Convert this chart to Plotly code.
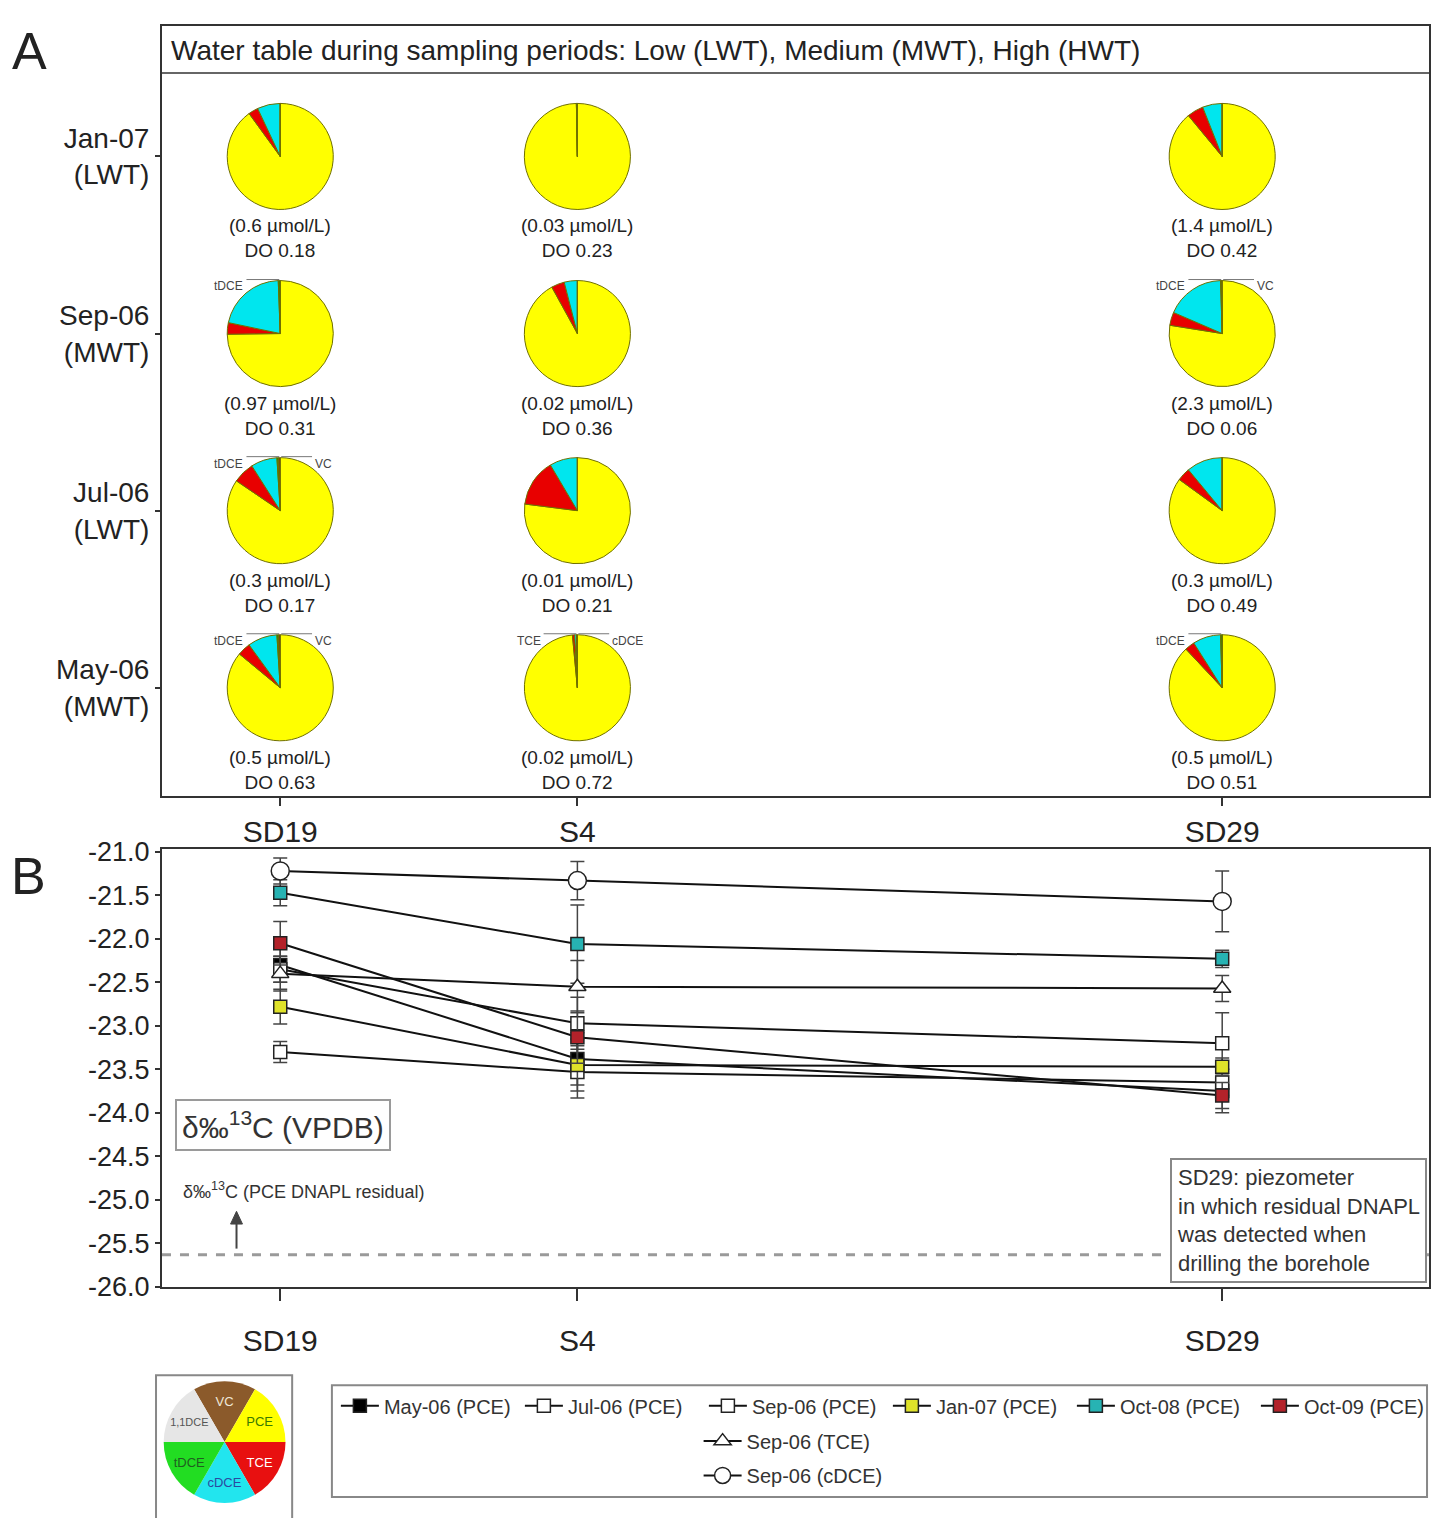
import plotly.graph_objects as go

W, H = 1440, 1518
FONT = "Liberation Sans, Arial, sans-serif"

# ---- wells along the transect ----
wells = ["SD19", "S4", "SD29"]
well_pos = [0.0, 1.0, 3.17]

# ---- panel A: chlorinated ethene composition per sampling campaign ----
rows = ["Jan-07", "Sep-06", "Jul-06", "May-06"]
water_table = ["LWT", "MWT", "LWT", "MWT"]

species = ["PCE", "TCE", "cDCE", "tDCE", "VC"]
species_colors = ["#ffff00", "#e80000", "#00e6ee", "#00a000", "#7a3a10"]

pce_frac = [[0.90, 0.997, 0.89], [0.745, 0.92, 0.775], [0.845, 0.77, 0.85], [0.86, 0.985, 0.88]]
tce_frac = [[0.03, 0.0, 0.05], [0.035, 0.04, 0.04], [0.065, 0.145, 0.04], [0.04, 0.007, 0.03]]
cdce_frac = [[0.07, 0.003, 0.06], [0.21, 0.04, 0.18], [0.08, 0.085, 0.11], [0.09, 0.006, 0.085]]
tdce_frac = [[0.0, 0.0, 0.0], [0.006, 0.0, 0.003], [0.005, 0.0, 0.0], [0.005, 0.0, 0.005]]
vc_frac = [[0.0, 0.0, 0.0], [0.0, 0.0, 0.002], [0.005, 0.0, 0.0], [0.005, 0.002, 0.0]]

total_umol = [[0.6, 0.03, 1.4], [0.97, 0.02, 2.3], [0.3, 0.01, 0.3], [0.5, 0.02, 0.5]]
do_mgl = [[0.18, 0.23, 0.42], [0.31, 0.36, 0.06], [0.17, 0.21, 0.49], [0.63, 0.72, 0.51]]

# minor slices that get a callout: (campaign, well, label, side)
minor_labels = [
    ("Sep-06", "SD19", "tDCE", "left"),
    ("Jul-06", "SD19", "tDCE", "left"),
    ("Jul-06", "SD19", "VC", "right"),
    ("May-06", "SD19", "tDCE", "left"),
    ("May-06", "SD19", "VC", "right"),
    ("May-06", "S4", "TCE", "left"),
    ("May-06", "S4", "cDCE", "right"),
    ("Sep-06", "SD29", "tDCE", "left"),
    ("Sep-06", "SD29", "VC", "right"),
    ("May-06", "SD29", "tDCE", "left"),
]

# key pie
key_labels = ["VC", "PCE", "TCE", "cDCE", "tDCE", "1,1DCE"]
key_colors = ["#8b5a2b", "#ffff00", "#e81010", "#22e5ee", "#22dd22", "#e6e6e6"]
key_text_colors = ["#f0e8d8", "#3a7a00", "#ffffff", "#2a4aa0", "#1f5f1f", "#555555"]

# ---- panel B: delta13C (VPDB) ----
series_names = ["May-06 (PCE)", "Jul-06 (PCE)", "Sep-06 (PCE)", "Jan-07 (PCE)",
                "Oct-08 (PCE)", "Oct-09 (PCE)", "Sep-06 (TCE)", "Sep-06 (cDCE)"]
may06_pce = [-22.30, -23.38, -23.75]
jul06_pce = [-22.35, -22.97, -23.20]
sep06_pce = [-23.30, -23.53, -23.65]
jan07_pce = [-22.78, -23.45, -23.47]
oct08_pce = [-21.47, -22.06, -22.23]
oct09_pce = [-22.05, -23.13, -23.80]
sep06_tce = [-22.40, -22.55, -22.57]
sep06_cdce = [-21.22, -21.33, -21.57]

may06_err = [0.20, 0.30, 0.25]
jul06_err = [0.15, 0.30, 0.35]
sep06_err = [0.12, 0.30, 0.15]
jan07_err = [0.20, 0.30, 0.10]
oct08_err = [0.15, 0.45, 0.10]
oct09_err = [0.25, 0.30, 0.15]
sep06_tce_err = [0.20, 0.30, 0.15]
sep06_cdce_err = [0.15, 0.22, 0.35]

dnapl_residual = -25.63
b_ticks = [-21.0, -21.5, -22.0, -22.5, -23.0, -23.5, -24.0, -24.5, -25.0, -25.5, -26.0]

# ---- layout geometry (pixels) ----
AX_L, AX_R = 163, 1438
A_TOP, A_BOT = 14, 798
B_TOP, B_BOT = 852, 1298
X_RANGE = [-0.398, 3.866]
A_RANGE = [-0.61, 3.738]
B_RANGE = [-26.0, -20.966]
PIE_R = 54


def px_x(v):
    return AX_L + (v - X_RANGE[0]) / (X_RANGE[1] - X_RANGE[0]) * (AX_R - AX_L)


def px_row(r):
    return A_BOT - (r - A_RANGE[0]) / (A_RANGE[1] - A_RANGE[0]) * (A_BOT - A_TOP)


def paper_x(p):
    return p / W


def paper_y(p):
    return 1 - p / H


row_pos = [len(rows) - 1 - i for i in range(len(rows))]
row_ticktext = [f"{r}<br>({w})" for r, w in zip(rows, water_table)]

fig = go.Figure()

# pies of panel A
for i, r in enumerate(rows):
    for j, w in enumerate(wells):
        vals = [pce_frac[i][j], tce_frac[i][j], cdce_frac[i][j], tdce_frac[i][j], vc_frac[i][j]]
        cx, cy = px_x(well_pos[j]), px_row(row_pos[i])
        fig.add_trace(go.Pie(
            values=vals, labels=species, sort=False, direction="clockwise", rotation=0,
            marker=dict(colors=species_colors, line=dict(color="#707000", width=1)),
            textinfo="none", showlegend=False, name=f"{w} {r}",
            domain=dict(x=[paper_x(cx - PIE_R), paper_x(cx + PIE_R)],
                        y=[paper_y(cy + PIE_R), paper_y(cy - PIE_R)]),
        ))

# key pie
fig.add_trace(go.Pie(
    values=[1] * len(key_labels), labels=key_labels, sort=False, direction="clockwise",
    rotation=-30, marker=dict(colors=key_colors, line=dict(color="#ffffff", width=0)),
    textinfo="label", textposition="inside", insidetextorientation="horizontal",
    textfont=dict(size=13, color=key_text_colors, family=FONT), showlegend=False,
    domain=dict(x=[paper_x(162), paper_x(290)], y=[0.0, paper_y(1394)]),
))

# panel B series
values = [may06_pce, jul06_pce, sep06_pce, jan07_pce, oct08_pce, oct09_pce, sep06_tce, sep06_cdce]
errors = [may06_err, jul06_err, sep06_err, jan07_err, oct08_err, oct09_err, sep06_tce_err, sep06_cdce_err]
symbols = ["square", "square", "square", "square", "square", "square", "triangle-up", "circle"]
fills = ["#000000", "#ffffff", "#ffffff", "#dfe22a", "#27b3b3", "#b3222a", "#ffffff", "#ffffff"]
sizes = [13, 13, 13, 13, 13, 13, 15, 18]
legends = ["legend"] * 6 + ["legend2", "legend3"]

for name, yv, ev, sym, fc, sz, lg in zip(series_names, values, errors, symbols, fills, sizes, legends):
    fig.add_trace(go.Scatter(
        x=well_pos, y=yv, name=name, mode="lines+markers", xaxis="x2", yaxis="y2",
        line=dict(color="#111111", width=2),
        marker=dict(symbol=sym, size=sz, color=fc, line=dict(color="#222222", width=1.5)),
        error_y=dict(type="data", array=ev, visible=True, color="#444444", thickness=1.5, width=7),
        legend=lg,
    ))

axis_common = dict(showline=True, mirror=True, linecolor="#333333", linewidth=2,
                   showgrid=False, zeroline=False, ticks="outside", tickcolor="#333333",
                   tickwidth=2)

annotations = []
shapes = []

# title strip of panel A
shapes.append(dict(type="line", xref="paper", yref="paper", x0=paper_x(AX_L), x1=paper_x(AX_R),
                   y0=paper_y(62), y1=paper_y(62), line=dict(color="#333333", width=1.5)))
annotations.append(dict(text="Water table during sampling periods: Low (LWT), Medium (MWT), High (HWT)",
                        xref="paper", yref="paper", x=paper_x(170), y=paper_y(39),
                        xanchor="left", yanchor="middle", showarrow=False,
                        font=dict(size=28, color="#222222")))

# concentration / DO labels below each pie
for i, r in enumerate(rows):
    for j, w in enumerate(wells):
        annotations.append(dict(
            text=f"({total_umol[i][j]} µmol/L)<br>DO {do_mgl[i][j]:.2f}",
            xref="x", yref="y", x=well_pos[j], y=row_pos[i], yshift=-57,
            xanchor="center", yanchor="top", showarrow=False,
            font=dict(size=19, color="#222222")))

# callouts for minor slices
for r, w, lab, side in minor_labels:
    i, j = rows.index(r), wells.index(w)
    cx, cy = px_x(well_pos[j]), px_row(row_pos[i])
    ly = cy - PIE_R - 1
    if side == "left":
        x0, x1, tx, anchor = cx - 34, cx - 1, cx - 35, "right"
    else:
        x0, x1, tx, anchor = cx + 1, cx + 32, cx + 33, "left"
    shapes.append(dict(type="line", xref="paper", yref="paper", x0=paper_x(x0), x1=paper_x(x1),
                       y0=paper_y(ly), y1=paper_y(ly), line=dict(color="#777777", width=1)))
    annotations.append(dict(text=lab, xref="paper", yref="paper", x=paper_x(tx), y=paper_y(ly + 7),
                            xanchor=anchor, yanchor="middle", showarrow=False,
                            font=dict(size=12, color="#444444")))

# panel letters
annotations.append(dict(text="A", xref="paper", yref="paper", x=paper_x(10), y=paper_y(40),
                        xanchor="left", yanchor="middle", showarrow=False, font=dict(size=52, color="#222222")))
annotations.append(dict(text="B", xref="paper", yref="paper", x=paper_x(9), y=paper_y(880),
                        xanchor="left", yanchor="middle", showarrow=False, font=dict(size=52, color="#222222")))

# DNAPL residual reference line with pointer to its label
shapes.append(dict(type="line", xref="x2 domain", yref="y2", x0=0, x1=1, y0=dnapl_residual, y1=dnapl_residual,
                   line=dict(color="#9a9a9a", width=3, dash="dash")))
annotations.append(dict(text="δ‰<sup>13</sup>C (PCE DNAPL residual)", xref="paper", yref="paper",
                        x=paper_x(182), y=paper_y(1200), xanchor="left", yanchor="middle",
                        showarrow=False, font=dict(size=18, color="#333333")))
shapes.append(dict(type="line", xref="paper", yref="paper", x0=paper_x(238), x1=paper_x(238),
                   y0=paper_y(1259), y1=paper_y(1232), line=dict(color="#444444", width=2)))
shapes.append(dict(type="path", xref="paper", yref="paper",
                   path=(f"M {paper_x(232)} {paper_y(1234)} L {paper_x(238)} {paper_y(1221)} "
                         f"L {paper_x(244)} {paper_y(1234)} Z"),
                   fillcolor="#444444", line=dict(color="#444444", width=1)))

# boxed labels
annotations.append(dict(text="δ‰<sup>13</sup>C (VPDB)", xref="paper", yref="paper",
                        x=paper_x(285), y=paper_y(1133), xanchor="center", yanchor="middle",
                        showarrow=False, font=dict(size=30, color="#333333"),
                        bordercolor="#9a9a9a", borderwidth=2, borderpad=5, bgcolor="#ffffff"))
annotations.append(dict(text="SD29: piezometer<br>in which residual DNAPL<br>was detected when<br>drilling the borehole",
                        xref="paper", yref="paper", x=paper_x(1436), y=paper_y(1230), xanchor="right",
                        yanchor="middle", align="left", showarrow=False,
                        font=dict(size=22, color="#333333"),
                        bordercolor="#888888", borderwidth=2, borderpad=5, bgcolor="#ffffff"))

# frames around the key pie and the series legend
shapes.append(dict(type="rect", xref="paper", yref="paper", x0=paper_x(157), x1=paper_x(294),
                   y0=paper_y(1540), y1=paper_y(1388), line=dict(color="#888888", width=2)))
shapes.append(dict(type="rect", xref="paper", yref="paper", x0=paper_x(334), x1=paper_x(1436),
                   y0=paper_y(1512), y1=paper_y(1398), line=dict(color="#888888", width=2)))

legend_common = dict(orientation="h", xanchor="left", yanchor="middle", bgcolor="rgba(0,0,0,0)",
                     font=dict(size=20, color="#333333"), itemwidth=38, borderwidth=0)

fig.update_layout(
    width=W, height=H, margin=dict(l=0, r=0, t=0, b=0),
    paper_bgcolor="white", plot_bgcolor="white",
    font=dict(family=FONT, color="#222222"),
    xaxis=dict(domain=[paper_x(AX_L), paper_x(AX_R)], range=X_RANGE, anchor="y",
               tickvals=well_pos, ticktext=wells, ticklen=8, tickfont=dict(size=30),
               **axis_common),
    yaxis=dict(domain=[paper_y(A_BOT), paper_y(A_TOP)], range=A_RANGE, anchor="x",
               tickvals=row_pos, ticktext=row_ticktext, ticklen=5, tickfont=dict(size=28),
               **axis_common),
    xaxis2=dict(domain=[paper_x(AX_L), paper_x(AX_R)], range=X_RANGE, anchor="y2",
                tickvals=well_pos, ticktext=wells, ticklen=12, tickfont=dict(size=30),
                ticklabelstandoff=14, **axis_common),
    yaxis2=dict(domain=[paper_y(B_BOT), paper_y(B_TOP)], range=B_RANGE, anchor="x2",
                tickvals=b_ticks, ticktext=[f"{v:.1f}" for v in b_ticks], ticklen=5,
                tickfont=dict(size=27), **axis_common),
    legend=dict(x=paper_x(338), y=paper_y(1419), entrywidth=131, entrywidthmode="pixels", **legend_common),
    legend2=dict(x=paper_x(703), y=paper_y(1455), **legend_common),
    legend3=dict(x=paper_x(703), y=paper_y(1490), **legend_common),
    shapes=shapes, annotations=annotations,
)

fig.write_html("out.html")
